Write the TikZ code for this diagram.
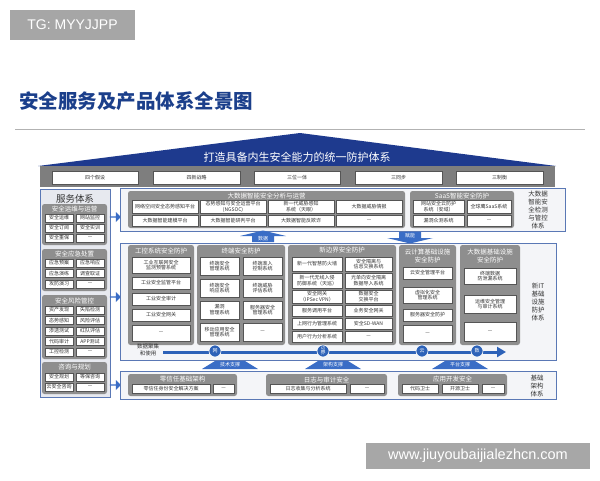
\documentclass[tikz,border=0pt]{standalone}
\usepackage{fontspec}
\setmainfont{Noto Sans CJK SC}
\newfontfamily\latfont{Liberation Sans}
\usetikzlibrary{shapes.arrows,arrows.meta}
\definecolor{navy}{HTML}{1B3F8B}
\definecolor{roofblue}{HTML}{1E3A8E}
\definecolor{bargray}{HTML}{7E7E7E}
\definecolor{grpgray}{HTML}{8E8E8E}
\definecolor{pborder}{HTML}{5A78B5}
\definecolor{pfill}{HTML}{F4F5F8}
\definecolor{lfill}{HTML}{E7E9EF}
\definecolor{arrowblue}{HTML}{3A6DC6}
\definecolor{flowblue}{HTML}{2D62B8}
\definecolor{boxline}{HTML}{555555}
\definecolor{txtdark}{HTML}{333333}
\tikzset{
  bx/.style={draw=boxline, fill=white, line width=0.4pt, inner sep=0pt, align=center, text=txtdark, font=\fontsize{5}{5.8}\selectfont},
  hbx/.style={draw=boxline, fill=white, line width=0.4pt, inner sep=0pt, text=txtdark, font=\fontsize{5}{5.8}\selectfont},
  grp/.style={fill=grpgray, rounded corners=2.5pt, inner sep=0pt},
  pnl/.style={draw=pborder, fill=pfill, line width=0.7pt, inner sep=0pt},
  lpnl/.style={draw=pborder, fill=lfill, line width=0.7pt, inner sep=0pt},
  hbar/.style={fill=bargray, inner sep=0pt},
  ghd/.style={text=white, font=\fontsize{6.5}{7.5}\selectfont, align=center, inner sep=0pt},
  side/.style={text=txtdark, font=\fontsize{6.5}{7.8}\selectfont, align=center, inner sep=0pt},
  tgbox/.style={fill=black!35, text=white, inner sep=0pt, font=\latfont\fontsize{14}{14}\selectfont},
  atext/.style={text=white, font=\fontsize{5}{5}\selectfont, inner sep=0pt},
  larrow/.style={single arrow, fill=arrowblue, minimum width=10pt, minimum height=11pt, single arrow head extend=1.5pt, inner sep=0pt},
  circ/.style={circle, fill=flowblue, draw=white, line width=0.6pt, minimum size=12pt, inner sep=0pt, text=white, font=\fontsize{5}{5}\selectfont, align=center}
}
\newcommand{\rbox}[7][bx]{%
  \pgfmathsetmacro\rbw{#5-#3}\pgfmathsetmacro\rbh{#6-#4}%
  \pgfmathsetmacro\rbx{(#3+#5)/2}\pgfmathsetmacro\rby{(#4+#6)/2}%
  \node[#1,minimum width=\rbw pt,minimum height=\rbh pt] (#2) at (\rbx,\rby) {#7};}
\newcommand{\suparr}[4]{%
  \fill[arrowblue] ({#2-28},{#3+4}) -- ({#2-15},{#3-4}) -- ({#2+15},{#3-4}) -- ({#2+28},{#3+4}) -- cycle;
  \node[atext] (#1) at (#2,#3) {#4};}
\begin{document}
\begin{tikzpicture}[x=1pt,y=-1pt]
\useasboundingbox (0,0) rectangle (600,480);
\fill[white] (0,0) rectangle (600,480);
% top label and title
\rbox[tgbox]{tg}{10}{10}{135}{40}{TG: MYYJJPP}
\node[anchor=west, text=navy, font=\bfseries\fontsize{19.5}{20}\selectfont, inner sep=0pt] (title) at (19,101) {安全服务及产品体系全景图};
\draw[black!30, line width=0.6pt] (15,129) -- (585,129);
% roof
\fill[roofblue] (38,166) -- (300,133) -- (556,166) -- cycle;
\node[text=white, font=\fontsize{11}{11}\selectfont, inner sep=0pt] (rooft) at (297,157) {打造具备内生安全能力的统一防护体系};
% header bar
\rbox[hbar]{hbar}{40}{166}{555}{187}{}
\rbox[hbx]{h1}{52}{171}{138}{184}{四个假设}
\rbox[hbx]{h2}{153}{171}{240}{184}{四新战略}
\rbox[hbx]{h3}{254}{171}{340}{184}{三位一体}
\rbox[hbx]{h4}{355}{171}{442}{184}{三同步}
\rbox[hbx]{h5}{456}{171}{543}{184}{三制衡}
% left panel
\rbox[lpnl]{lp}{40}{189}{110}{397}{}
\node[text=txtdark, font=\fontsize{9.5}{10}\selectfont, inner sep=0pt] (lpt) at (75,199) {服务体系};
\rbox[grp]{lg1}{42}{204}{107}{245}{}
\node[ghd] (lg1h) at (74.5,209) {安全运维与运营};
\rbox{l11}{45}{214}{73}{222}{安全运维}
\rbox{l12}{76}{214}{104}{222}{网站监控}
\rbox{l13}{45}{224}{73}{232}{安全订阅}
\rbox{l14}{76}{224}{104}{232}{安全实训}
\rbox{l15}{45}{234}{73}{242}{安全重保}
\rbox{l16}{76}{234}{104}{242}{—}
\rbox[grp]{lg2}{42}{249}{107}{291}{}
\node[ghd] (lg2h) at (74.5,254.5) {安全应急处置};
\rbox{l21}{45}{259}{73}{267}{应急预案}
\rbox{l22}{76}{259}{104}{267}{应急响应}
\rbox{l23}{45}{269.5}{73}{277.5}{应急演练}
\rbox{l24}{76}{269.5}{104}{277.5}{调查取证}
\rbox{l25}{45}{280}{73}{288}{攻防演习}
\rbox{l26}{76}{280}{104}{288}{—}
\rbox[grp]{lg3}{42}{295}{107}{359}{}
\node[ghd] (lg3h) at (74.5,300.5) {安全风险管控};
\rbox{l31}{45}{306}{73}{314}{资产发现}
\rbox{l32}{76}{306}{104}{314}{失陷检测}
\rbox{l33}{45}{316.5}{73}{324.5}{态势感知}
\rbox{l34}{76}{316.5}{104}{324.5}{风险评估}
\rbox{l35}{45}{327}{73}{335}{渗透测试}
\rbox{l36}{76}{327}{104}{335}{红队评估}
\rbox{l37}{45}{337.5}{73}{345.5}{代码审计}
\rbox{l38}{76}{337.5}{104}{345.5}{APP测试}
\rbox{l39}{45}{348}{73}{356}{工控检测}
\rbox{l3a}{76}{348}{104}{356}{—}
\rbox[grp]{lg4}{42}{362}{107}{394}{}
\node[ghd] (lg4h) at (74.5,367.5) {咨询与规划};
\rbox{l41}{45}{373}{73}{381}{安全规划}
\rbox{l42}{76}{373}{104}{381}{等保咨询}
\rbox{l43}{45}{383}{73}{391}{云安全咨询}
\rbox{l44}{76}{383}{104}{391}{—}
% left arrows
\node[larrow] (la1) at (115,217) {};
\node[larrow] (la2) at (115,297) {};
\node[larrow] (la3) at (115,385) {};
% big data panel
\rbox[pnl]{bdp}{120}{188}{565}{231}{}
\rbox[grp]{bg1}{128}{191}{405}{228}{}
\node[ghd] (bg1h) at (266.5,196) {大数据智能安全分析与运营};
\rbox{b11}{132}{200}{198}{213}{网络空间安全态势感知平台}
\rbox{b12}{200}{200}{266}{213}{态势感知与安全运营平台\\(NGSOC)}
\rbox{b13}{268}{200}{334}{213}{新一代威胁感知\\系统（天眼）}
\rbox{b14}{336}{200}{402}{213}{大数据威胁情报}
\rbox{b21}{132}{215}{198}{226}{大数据智能建模平台}
\rbox{b22}{200}{215}{266}{226}{大数据智能研判平台}
\rbox{b23}{268}{215}{334}{226}{大数据智能反欺诈}
\rbox{b24}{336}{215}{402}{226}{—}
\rbox[grp]{bg2}{410}{191}{514}{228}{}
\node[ghd] (bg2h) at (462,196) {SaaS智能安全防护};
\rbox{s11}{413}{200}{464}{213}{网站安全云防护\\系统（安域）}
\rbox{s12}{467}{200}{511}{213}{全球鹰SaaS系统}
\rbox{s21}{413}{215}{464}{226}{漏洞众测系统}
\rbox{s22}{467}{215}{511}{226}{—}
\node[side] (bside) at (538,210) {大数据\\智能安\\全检测\\与管控\\体系};
% data / empower arrows
\fill[arrowblue] (240,236) -- (263,230.5) -- (286,236) -- (274,236) -- (274,242) -- (252,242) -- (252,236) -- cycle;
\node[atext] (adata) at (263,238.6) {数据};
\fill[arrowblue] (399,232) -- (421,232) -- (421,238) -- (433,238) -- (410,243.5) -- (387,238) -- (399,238) -- cycle;
\node[atext] (aemp) at (410,235.2) {赋能};
% middle panel
\rbox[pnl]{mp}{120}{243}{556}{360}{}
\rbox[grp]{mg1}{128}{245}{194}{345}{}
\node[ghd] (mg1h) at (161,250.5) {工控系统安全防护};
\rbox{m11}{132}{257}{190}{273}{工业互联网安全\\监测预警系统}
\rbox{m12}{132}{277}{190}{289}{工业安全监管平台}
\rbox{m13}{132}{293}{190}{305}{工业安全审计}
\rbox{m14}{132}{309}{190}{321}{工业安全网关}
\rbox{m15}{132}{325}{190}{341}{—}
\rbox[grp]{mg2}{197}{245}{285}{345}{}
\node[ghd] (mg2h) at (241,250.5) {终端安全防护};
\rbox{m21}{200}{257}{239}{275}{终端安全\\管理系统}
\rbox{m22}{243}{257}{282}{275}{终端准入\\控制系统}
\rbox{m23}{200}{279}{239}{297}{终端安全\\响应系统}
\rbox{m24}{243}{279}{282}{297}{终端威胁\\评估系统}
\rbox{m25}{200}{301}{239}{319}{漏洞\\管理系统}
\rbox{m26}{243}{301}{282}{319}{服务器安全\\管理系统}
\rbox{m27}{200}{323}{239}{341}{移动应用安全\\管理系统}
\rbox{m28}{243}{323}{282}{341}{—}
\rbox[grp]{mg3}{288}{245}{396}{345}{}
\node[ghd] (mg3h) at (342,250.5) {新边界安全防护};
\rbox{m31}{292}{257}{342}{271}{新一代智慧防火墙}
\rbox{m32}{345}{257}{392}{271}{安全隔离与\\信息交换系统}
\rbox{m33}{292}{273.5}{342}{288}{新一代无线入侵\\防御系统（天巡）}
\rbox{m34}{345}{273.5}{392}{288}{光单向安全隔离\\数据导入系统}
\rbox{m35}{292}{290.5}{342}{303}{安全网关\\（IPSec VPN）}
\rbox{m36}{345}{290.5}{392}{303}{数据安全\\交换平台}
\rbox{m37}{292}{305.5}{342}{316}{服务调用平台}
\rbox{m38}{345}{305.5}{392}{316}{业务安全网关}
\rbox{m39}{292}{318.5}{342}{329}{上网行为管理系统}
\rbox{m3a}{345}{318.5}{392}{329}{安全SD-WAN}
\rbox{m3b}{292}{331.5}{342}{342}{用户行为分析系统}
\rbox{m3c}{345}{331.5}{392}{342}{—}
\rbox[grp]{mg4}{399}{245}{456}{345}{}
\node[ghd] (mg4h) at (427.5,256) {云计算基础设施\\安全防护};
\rbox{m41}{403}{267}{452}{279}{云安全管理平台}
\rbox{m42}{403}{287}{452}{303}{虚拟化安全\\管理系统}
\rbox{m43}{403}{309}{452}{321}{服务器安全防护}
\rbox{m44}{403}{325}{452}{342}{—}
\rbox[grp]{mg5}{460}{245}{520}{345}{}
\node[ghd] (mg5h) at (490,256) {大数据基础设施\\安全防护};
\rbox{m51}{464}{268}{516}{284}{终端数据\\防泄漏系统}
\rbox{m52}{464}{295}{516}{313}{运维安全管理\\与审计系统}
\rbox{m53}{464}{322}{516}{341}{—}
\node[side] (mside) at (538,302) {新IT\\基础\\设施\\防护\\体系};
% data flow
\node[text=txtdark, font=\fontsize{5.5}{7}\selectfont, align=center, inner sep=0pt] (flowl) at (148,350) {数据聚集\\和使用};
\coordinate (fs) at (163,352);
\coordinate (fe) at (506,352);
\draw[flowblue, line width=3pt, -{Triangle[length=9pt,width=10pt]}] (fs) -- (fe);
\node[circ] (c1) at (215,351) {网};
\node[circ] (c2) at (323,351) {\fontsize{4}{4.4}\selectfont 边\\界};
\node[circ] (c3) at (422,351) {云};
\node[circ] (c4) at (477,351) {数};
% support arrows
\suparr{sp1}{230}{365}{技术支撑}
\suparr{sp2}{333}{365}{架构支撑}
\suparr{sp3}{460}{365}{平台支撑}
% bottom panel
\rbox[pnl]{bp}{120}{371}{556}{399}{}
\rbox[grp]{bb1}{128}{374}{237}{396}{}
\node[ghd] (bb1h) at (182.5,379.5) {零信任基础架构};
\rbox{b31}{132}{384.5}{210}{393}{零信任身份安全解决方案}
\rbox{b32}{213}{384.5}{234}{393}{—}
\rbox[grp]{bb2}{266}{374}{387}{396}{}
\node[ghd] (bb2h) at (326.5,379.5) {日志与审计安全};
\rbox{b41}{270}{384.5}{346}{393}{日志收集与分析系统}
\rbox{b42}{350}{384.5}{384}{393}{—}
\rbox[grp]{bb3}{398}{374}{507}{396}{}
\node[ghd] (bb3h) at (452.5,379.5) {应用开发安全};
\rbox{b51}{402}{384.5}{438}{393}{代码卫士}
\rbox{b52}{442}{384.5}{478}{393}{开源卫士}
\rbox{b53}{482}{384.5}{504}{393}{—}
\node[side] (bside2) at (537,386) {基础\\架构\\体系};
% watermark
\node[fill=black!38, fill opacity=0.9, text opacity=1, text=white, font=\latfont\fontsize{14.5}{14.5}\selectfont, minimum width=224pt, minimum height=26pt, inner sep=0pt] (wm) at (478,456) {www.jiuyoubaijialezhcn.com};
\end{tikzpicture}
\end{document}
